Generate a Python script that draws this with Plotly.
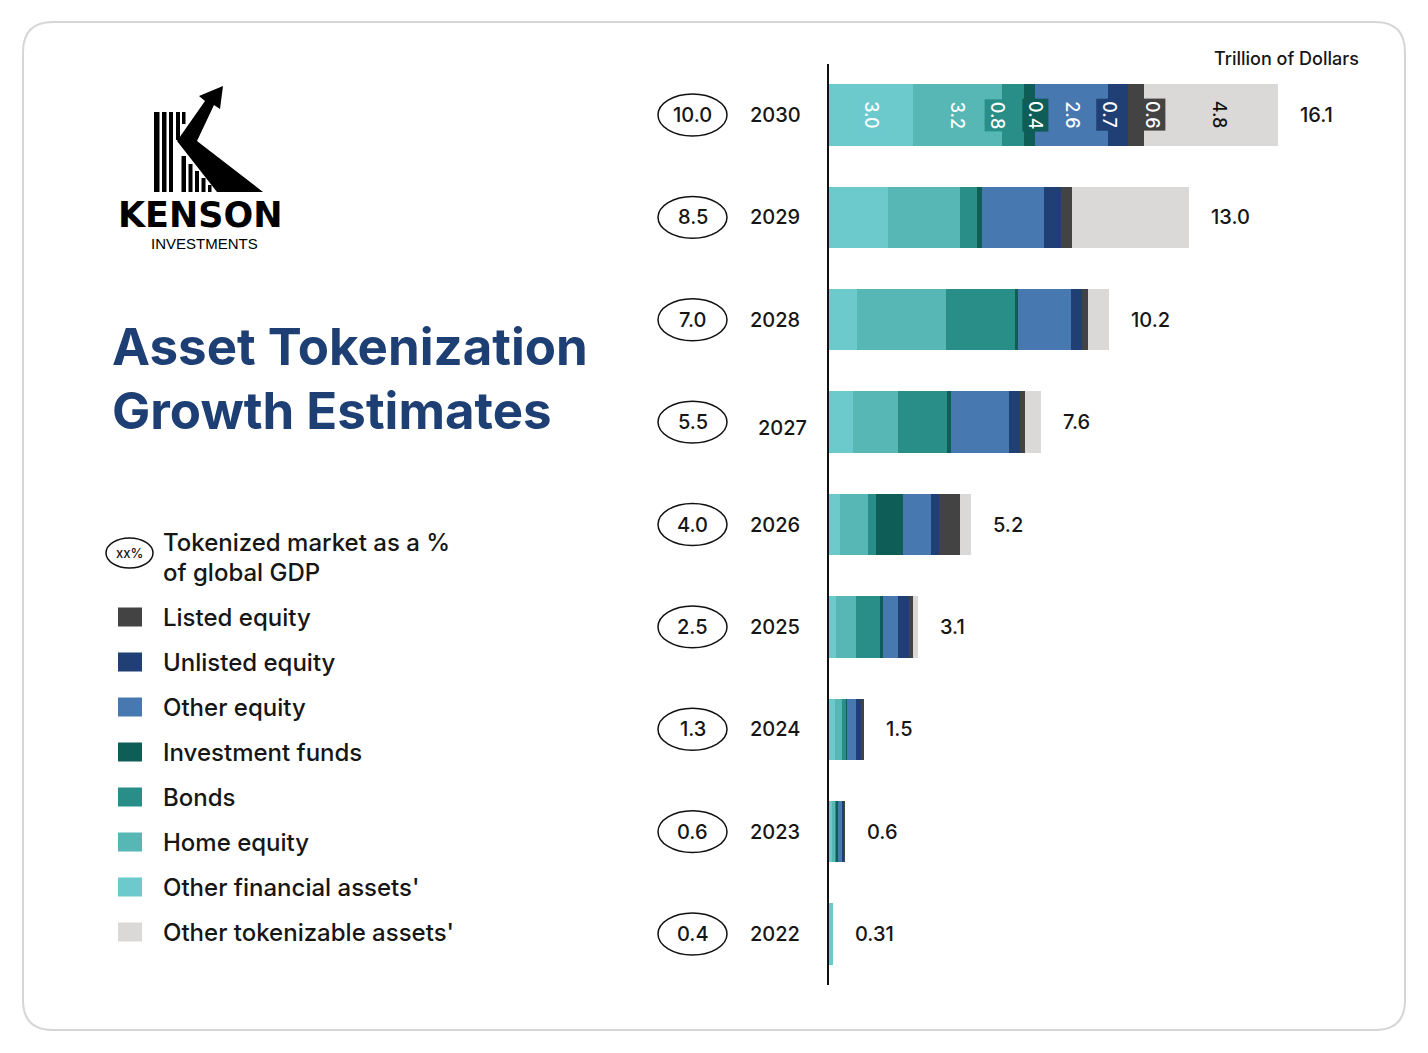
import plotly.graph_objects as go

# ---------------- data ----------------
years = ["2022", "2023", "2024", "2025", "2026", "2027", "2028", "2029", "2030"]
gdp_pct = ["0.4", "0.6", "1.3", "2.5", "4.0", "5.5", "7.0", "8.5", "10.0"]
total_labels = ["0.31", "0.6", "1.5", "3.1", "5.2", "7.6", "10.2", "13.0", "16.1"]

other_financial = [0.15, 0.10, 0.22, 0.24, 0.38, 0.86, 1.00, 2.10, 3.0]
home_equity = [0.00, 0.10, 0.24, 0.72, 1.03, 1.63, 3.20, 2.60, 3.2]
bonds = [0.00, 0.08, 0.15, 0.90, 0.26, 1.73, 2.45, 0.60, 0.8]
investment_funds = [0.00, 0.04, 0.05, 0.06, 0.99, 0.14, 0.12, 0.20, 0.4]
other_equity = [0.00, 0.13, 0.30, 0.54, 1.01, 2.09, 1.90, 2.20, 2.6]
unlisted_equity = [0.00, 0.10, 0.20, 0.42, 0.26, 0.39, 0.38, 0.60, 0.7]
listed_equity = [0.00, 0.02, 0.08, 0.12, 0.75, 0.20, 0.25, 0.40, 0.6]
other_tokenizable = [0.00, 0.00, 0.00, 0.18, 0.41, 0.56, 0.75, 4.20, 4.8]

series_names = ["Other financial assets'", "Home equity", "Bonds", "Investment funds",
                "Other equity", "Unlisted equity", "Listed equity", "Other tokenizable assets'"]
series_values = [other_financial, home_equity, bonds, investment_funds,
                 other_equity, unlisted_equity, listed_equity, other_tokenizable]
legend_order = ["Listed equity", "Unlisted equity", "Other equity", "Investment funds",
                "Bonds", "Home equity", "Other financial assets'", "Other tokenizable assets'"]

# ---------------- style ----------------
colors = {
    "Other financial assets'": "#6CCACD",
    "Home equity": "#56B7B5",
    "Bonds": "#298D88",
    "Investment funds": "#0E5D56",
    "Other equity": "#4878B0",
    "Unlisted equity": "#1F3F75",
    "Listed equity": "#434343",
    "Other tokenizable assets'": "#DAD9D8",
}
FONT = "Inter, Lato, 'Open Sans', sans-serif"
TXT = "#161616"
NAVY = "#1E3F74"

OFF = 8            # page body margin
W, H = 1412, 1037  # figure size
PPU = 27.9         # px per trillion
AX_X = 829         # screen x of bar baseline
XMAX = 20
Y_TOP, Y_BOT = 63.8, 985.2

fig = go.Figure()

for name, vals in zip(series_names, series_values):
    fig.add_trace(go.Bar(
        y=years, x=vals, orientation="h", name=name, width=0.6,
        marker=dict(color=colors[name], line=dict(width=0)),
        showlegend=False, hoverinfo="skip", xaxis="x", yaxis="y"))

# invisible pixel-space overlay
fig.add_trace(go.Scatter(x=[], y=[], xaxis="x2", yaxis="y2", showlegend=False))

shapes = []
annotations = []

def ann(x, y, text, size, color=TXT, xanchor="center", yanchor="middle", weight=400,
        family=FONT, xref="x2", yref="y2", **kw):
    annotations.append(dict(x=x, y=y, xref=xref, yref=yref, text=text, showarrow=False,
                            xanchor=xanchor, yanchor=yanchor,
                            font=dict(family=family, size=size, color=color, weight=weight), **kw))

# card border (rounded)
x0, y0, x1, y1, r = 23, 22, 1405, 1030, 30
path = (f"M {x0+r},{y0} L {x1-r},{y0} Q {x1},{y0} {x1},{y0+r} L {x1},{y1-r} "
        f"Q {x1},{y1} {x1-r},{y1} L {x0+r},{y1} Q {x0},{y1} {x0},{y1-r} L {x0},{y0+r} "
        f"Q {x0},{y0} {x0+r},{y0} Z")
shapes.append(dict(type="path", path=path, xref="x2", yref="y2",
                   line=dict(color="#D6D6D6", width=2), fillcolor="rgba(0,0,0,0)", layer="below"))

# ---------------- logo ----------------
for sx0, sx1, top, bottom in [(154, 159.5, 112, 192), (162, 166.5, 112, 192), (169, 173, 112, 192),
                              (176, 180, 112, 140), (182, 185.5, 112, 124)]:
    shapes.append(dict(type="rect", xref="x2", yref="y2", x0=sx0, x1=sx1, y0=top, y1=bottom,
                       fillcolor="#000", line=dict(width=0)))
for sx0, sx1, sy0 in [(181.5, 186, 156), (188.5, 192.5, 164), (195, 199, 171),
                      (201.5, 205.5, 178), (208, 211.5, 185)]:
    shapes.append(dict(type="rect", xref="x2", yref="y2", x0=sx0, x1=sx1, y0=sy0, y1=192,
                       fillcolor="#000", line=dict(width=0)))
logo_path = ("M 177,141 L 205,101 L 199,96 L 223,86 L 220,109 L 214,105 "
             "L 197,141 L 263,192 L 217,192 Z")
shapes.append(dict(type="path", path=logo_path, xref="x2", yref="y2",
                   fillcolor="#000", line=dict(width=0)))
ann(200, 215, "KENSON", 35, color="#000", weight=700, family="'DejaVu Sans', sans-serif")
ann(204, 243, "INVESTMENTS", 15, color="#000", family="'Liberation Sans', Arial, sans-serif")

# ---------------- title ----------------
ann(110, 346, "Asset Tokenization", 51, color=NAVY, xanchor="left", weight=700)
ann(110, 410, "Growth Estimates", 51, color=NAVY, xanchor="left", weight=700)

# ---------------- legend ----------------
shapes.append(dict(type="circle", xref="x2", yref="y2", x0=106, x1=153, y0=538, y1=568,
                   line=dict(color="#111", width=1.5), fillcolor="white"))
ann(129.5, 553, "xx%", 13, weight=500)
ann(161, 542, "Tokenized market as a %", 24, xanchor="left", weight=500)
ann(161, 572, "of global GDP", 24, xanchor="left", weight=500)
for i, name in enumerate(legend_order):
    cy = 617 + 45 * i
    shapes.append(dict(type="rect", xref="x2", yref="y2", x0=118, x1=142, y0=cy - 9.5, y1=cy + 9.5,
                       fillcolor=colors[name], line=dict(width=0)))
    ann(161, cy, name, 24, xanchor="left", weight=500)

# ---------------- chart labels ----------------
ann(1286, 58, "Trillion of Dollars", 18, weight=500)

for i, yr in enumerate(years):
    # GDP ellipse (category axis -> serial index)
    shapes.append(dict(type="circle", xref="x2", yref="y", x0=658, x1=727,
                       y0=i - 0.205, y1=i + 0.205, line=dict(color="#111", width=1.5)))
    ann(692.5, i, gdp_pct[i], 20, yref="y", weight=500)
    if yr == "2027":
        ann(782, i, yr, 20, yref="y", yshift=-6, weight=500)
    else:
        ann(775, i, yr, 20, yref="y", weight=500)
    total = sum(v[i] for v in series_values)
    ann(total, i, total_labels[i], 20, xanchor="left", xref="x", yref="y", xshift=20, weight=500)

# in-bar value labels for the last year
last = len(years) - 1
label_shift = {"Bonds": -16, "Investment funds": 5, "Unlisted equity": -9,
               "Listed equity": 16, "Other tokenizable assets'": 8}
cum = 0.0
for name, vals in zip(series_names, series_values):
    v = vals[last]
    mid = cum + v / 2
    cum += v
    dark_text = name == "Other tokenizable assets'"
    annotations.append(dict(
        x=mid, y=last, xref="x", yref="y", text=f"{v:.1f}", showarrow=False,
        textangle=90, xshift=label_shift.get(name, 0),
        bgcolor=colors[name], borderpad=2,
        font=dict(family=FONT, size=18, weight=500, color="#111" if dark_text else "white")))

fig.update_layout(
    width=W, height=H, autosize=False,
    margin=dict(l=0, r=0, t=0, b=0),
    paper_bgcolor="white", plot_bgcolor="rgba(0,0,0,0)",
    barmode="stack", bargap=0.4,
    showlegend=False,
    xaxis=dict(domain=[(AX_X - OFF) / W, (AX_X + XMAX * PPU - OFF) / W], range=[0, XMAX],
               visible=False, anchor="y", fixedrange=True),
    yaxis=dict(domain=[1 - (Y_BOT - OFF) / H, 1 - (Y_TOP - OFF) / H],
               type="category", categoryorder="array", categoryarray=years,
               range=[-0.5, len(years) - 0.5], showline=True, linecolor="#111", linewidth=2,
               showticklabels=False, showgrid=False, zeroline=False, ticks="", anchor="x",
               fixedrange=True),
    xaxis2=dict(domain=[0, 1], range=[OFF, OFF + W], visible=False, anchor="y2", fixedrange=True),
    yaxis2=dict(domain=[0, 1], range=[OFF + H, OFF], visible=False, anchor="x2", fixedrange=True),
    shapes=shapes,
    annotations=annotations,
    font=dict(family=FONT, color=TXT),
)

fig.write_html("out.html")
